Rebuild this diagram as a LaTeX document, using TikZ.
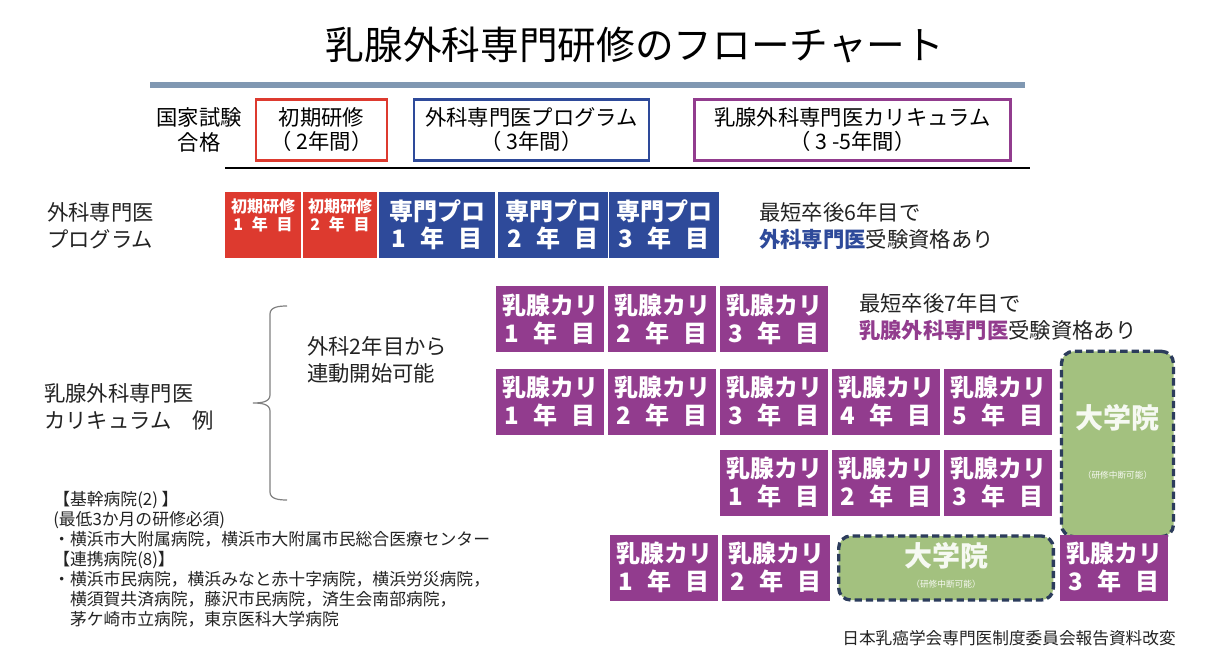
\documentclass[tikz,border=0pt]{standalone}
\usepackage{fontspec}
\setmainfont{Noto Sans CJK JP}
\usetikzlibrary{positioning}
\definecolor{kred}{RGB}{221,58,47}
\definecolor{kblue}{RGB}{46,74,154}
\definecolor{kpurple}{RGB}{146,60,142}
\definecolor{kgreen}{RGB}{163,193,127}
\definecolor{kdash}{RGB}{44,60,92}
\definecolor{kline}{RGB}{128,152,178}
\definecolor{ktext}{RGB}{35,35,35}
\newcommand{\nen}[2][3.8em]{\makebox[#1]{#2\hfill 年\hfill 目}}
\tikzset{
  yearbox/.style={fill=#1,text=white,inner sep=0pt,minimum height=49.5pt,align=center,font=\bfseries\fontsize{18}{20.5}\selectfont},
  planbox/.style={draw=#1,line width=1.8pt,inner sep=0pt,minimum height=46pt,align=center,font=\fontsize{16}{18}\selectfont},
  gradbox/.style={fill=kgreen,draw=kdash,line width=2.5pt,dash pattern=on 5.5pt off 3pt,rounded corners=9pt,inner sep=0pt},
  gradtxt/.style={text=white!90!kgreen,inner sep=0pt},
  sidetxt/.style={align=left,anchor=west,inner sep=0pt,text=ktext,font=\fontsize{16}{20}\selectfont}
}
\begin{document}
\begin{tikzpicture}[x=0.75pt,y=-0.75pt]
\useasboundingbox[fill=white] (0,0) rectangle (1227,666);
% title
\node[font=\fontsize{29}{32}\selectfont] (title) at (635,45) {乳腺外科専門研修のフローチャート};
\draw[kline,line width=3.8pt] (150,85)--(1025,85);
% plan header
\node[align=center,inner sep=0pt,font=\fontsize{16}{19}\selectfont] (pass) at (199,130) {国家試験\\合格};
\node[planbox=kred,minimum width=98pt] (hini) at (321.5,130) {初期研修\\（ 2年間）};
\node[planbox=kblue,minimum width=176pt] (hpro) at (531.5,130) {外科専門医プログラム\\（ 3年間）};
\node[planbox=kpurple,minimum width=237pt] (hcur) at (852.5,130) {乳腺外科専門医カリキュラム\\（ 3 -5年間）};
\draw[line width=1.1pt] (225,168)--(1030,168);
% surgery program
\node[sidetxt] (lpro) at (47,226) {外科専門医\\プログラム};
\foreach \i/\x/\w in {1/263/57,2/340/55}{
  \node[yearbox=kred,minimum width=\w pt] (ini\i) at (\x,225) {};
  \node[below=5pt of ini\i.north,inner sep=0pt,align=center,text=white,font=\bfseries\fontsize{12}{13.5}\selectfont] (initxt\i) {初期研修\\\nen[3.7em]{\i}};
}
\node[yearbox=kblue,minimum width=87pt] (pro1) at (437,225) {専門プロ\\\nen{1}};
\foreach \i/\x in {2/553,3/664} \node[yearbox=kblue,minimum width=82pt] (pro\i) at (\x,225) {専門プロ\\\nen{\i}};
\node[sidetxt] (npro) at (759,226) {最短卒後6年目で\\\textcolor{kblue}{\bfseries 外科専門医}受験資格あり};
% breast curriculum
\node[sidetxt] (lcur) at (44,407) {乳腺外科専門医\\カリキュラム\quad 例};
\draw[gray,line width=0.9pt] (287,306) to[out=180,in=90] (270,314)--(270,395) to[out=-90,in=0] (253,403) to[out=0,in=90] (270,411)--(270,492) to[out=-90,in=180] (287,500);
\node[sidetxt] (link) at (307,360) {外科2年目から\\連動開始可能};
\foreach \i/\x in {1/550,2/662,3/774} \node[yearbox=kpurple,minimum width=81pt] (ka\i) at (\x,319.5) {乳腺カリ\\\nen{\i}};
\node[sidetxt] (ncur) at (859,317) {最短卒後7年目で\\\textcolor{kpurple}{\bfseries 乳腺外科専門医}受験資格あり};
\foreach \i/\x in {1/550,2/662,3/774,4/886,5/998} \node[yearbox=kpurple,minimum width=81pt] (kb\i) at (\x,401.5) {乳腺カリ\\\nen{\i}};
\foreach \i/\x in {1/774,2/886,3/998} \node[yearbox=kpurple,minimum width=81pt] (kc\i) at (\x,482.5) {乳腺カリ\\\nen{\i}};
\node[gradbox,minimum width=84pt,minimum height=139pt] (grad1) at (1117.5,444) {};
\node[gradtxt,font=\bfseries\fontsize{21}{24}\selectfont] (grad1a) at (1117.5,418) {大学院};
\node[gradtxt,font=\fontsize{6.5}{8}\selectfont] (grad1b) at (1117.5,475) {（研修中断可能）};
\foreach \i/\x in {1/664,2/776} \node[yearbox=kpurple,minimum width=81pt] (kd\i) at (\x,567.5) {乳腺カリ\\\nen{\i}};
\node[gradbox,minimum width=161pt,minimum height=48pt] (grad2) at (946,568) {};
\node[gradtxt,font=\bfseries\fontsize{21}{24}\selectfont] (grad2a) at (946,556) {大学院};
\node[gradtxt,font=\fontsize{6.5}{8}\selectfont] (grad2b) at (946,584) {（研修中断可能）};
\node[yearbox=kpurple,minimum width=81pt] (kd3) at (1114,567.5) {乳腺カリ\\\nen{3}};
% hospitals
\node[anchor=north west,align=left,inner sep=0pt,text=ktext,font=\fontsize{12.6}{15}\selectfont] (hosp) at (53,491) {【基幹病院(2) 】\\(最低3か月の研修必須)\\・横浜市大附属病院，横浜市大附属市民総合医療センター\\【連携病院(8)】\\・横浜市民病院，横浜みなと赤十字病院，横浜労災病院，\\\hspace{1em}横須賀共済病院，藤沢市民病院，済生会南部病院，\\\hspace{1em}茅ケ崎市立病院，東京医科大学病院};
\node[text=ktext,font=\fontsize{12.5}{14}\selectfont] (src) at (1009,638) {日本乳癌学会専門医制度委員会報告資料改変};
\end{tikzpicture}
\end{document}
